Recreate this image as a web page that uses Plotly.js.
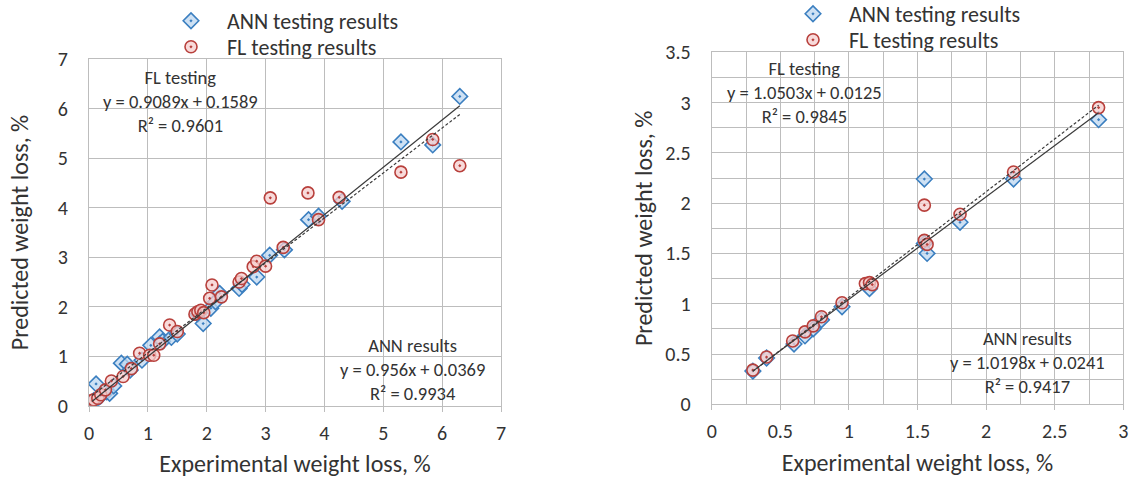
<!DOCTYPE html>
<html>
<head>
<meta charset="utf-8">
<script src="https://cdn.plot.ly/plotly-3.0.1.min.js"></script>
<style>html,body{margin:0;padding:0;background:#fff;} #chart{width:1131px;height:482px;}</style>
</head>
<body>
<div id="chart"></div>
<script>
// ---- Left panel data ----
const annLeftX = [0.05,0.08,0.12,0.15,0.2,0.3,0.35,0.42,0.55,0.65,0.7,0.9,1.05,1.2,1.25,1.4,1.5,1.85,1.94,2.07,2.15,2.22,2.55,2.6,2.85,3.07,3.32,3.73,3.9,4.3,5.3,5.84,6.3];
const annLeftY = [0.05,0.1,0.44,0.15,0.2,0.28,0.25,0.4,0.86,0.84,0.72,0.92,1.22,1.39,1.3,1.38,1.45,1.85,1.66,1.97,2.1,2.27,2.37,2.45,2.6,3.04,3.15,3.76,3.83,4.13,5.33,5.27,6.25];
const flLeftX  = [0.05,0.08,0.15,0.2,0.28,0.38,0.58,0.72,0.86,1.03,1.1,1.2,1.37,1.5,1.8,1.85,1.9,1.95,2.05,2.09,2.25,2.55,2.59,2.79,2.85,3.0,3.08,3.3,3.72,3.9,4.25,5.3,5.84,6.3];
const flLeftY  = [0.1,0.12,0.15,0.22,0.32,0.5,0.59,0.75,1.06,1.02,1.02,1.25,1.63,1.5,1.85,1.9,1.93,1.88,2.17,2.44,2.2,2.5,2.57,2.81,2.92,2.82,4.2,3.2,4.3,3.76,4.21,4.72,5.38,4.85];
// ---- Right panel data ----
const annRightX = [0.3,0.4,0.6,0.68,0.74,0.8,0.95,1.15,1.55,1.55,1.57,1.81,2.2,2.82];
const annRightY = [0.33,0.46,0.6,0.68,0.75,0.84,0.97,1.15,2.24,1.6,1.5,1.81,2.24,2.83];
const flRightX  = [0.3,0.4,0.59,0.68,0.74,0.8,0.95,1.12,1.15,1.17,1.55,1.55,1.57,1.81,2.2,2.82];
const flRightY  = [0.34,0.47,0.63,0.72,0.78,0.87,1.01,1.2,1.21,1.19,1.98,1.63,1.59,1.89,2.31,2.95];
// ---- Trend line coefficients [slope, intercept] ----
const annLeftFit  = [0.956, 0.0369];
const flLeftFit   = [0.9089, 0.1589];
const annRightFit = [1.0198, 0.0241];
const flRightFit  = [1.0503, 0.0125];
// ---- Text ----
const legendNames = ["ANN testing results", "FL testing results"];
const xTitle = "Experimental weight loss, %";
const yTitle = "Predicted weight loss, %";
const leftFLNote   = ["FL testing", "y = 0.9089x + 0.1589", "R² = 0.9601"];
const leftANNNote  = ["ANN results", "y = 0.956x + 0.0369", "R² = 0.9934"];
const rightFLNote  = ["FL testing", "y = 1.0503x + 0.0125", "R² = 0.9845"];
const rightANNNote = ["ANN results", "y = 1.0198x + 0.0241", "R² = 0.9417"];

const FONT = "Calibri, Carlito, Lato, 'Open Sans', sans-serif";
const TXT = "#333333";
const GRID = "#bdbdbd";

function fitLine(xs, fit, xa, ya, dash) {
  const x0 = Math.min(...xs), x1 = Math.max(...xs);
  return {x:[x0,x1], y:[fit[0]*x0+fit[1], fit[0]*x1+fit[1]], mode:'lines', xaxis:xa, yaxis:ya,
    line:{color:'#3a3a3a', width:1.2, dash:dash}, showlegend:false, hoverinfo:'skip'};
}
function annTrace(x,y,xa,ya,leg) {
  return {x:x, y:y, mode:'markers', name:legendNames[0], xaxis:xa, yaxis:ya, legend:leg,
    marker:{symbol:'diamond-dot', size:12, color:'rgba(190,215,240,0.75)', line:{color:'#3b7fc0', width:1.6}}};
}
function flTrace(x,y,xa,ya,leg) {
  return {x:x, y:y, mode:'markers', name:legendNames[1], xaxis:xa, yaxis:ya, legend:leg,
    marker:{symbol:'circle-dot', size:12, color:'rgba(245,205,205,0.75)', line:{color:'#b8403c', width:1.6}}};
}

const data = [
  annTrace(annLeftX, annLeftY, 'x', 'y', 'legend'),
  flTrace(flLeftX, flLeftY, 'x', 'y', 'legend2'),
  fitLine(annLeftX, annLeftFit, 'x', 'y', 'solid'),
  fitLine(flLeftX, flLeftFit, 'x', 'y', '3px,2px'),
  annTrace(annRightX, annRightY, 'x2', 'y2', 'legend3'),
  flTrace(flRightX, flRightY, 'x2', 'y2', 'legend4'),
  fitLine(annRightX, annRightFit, 'x2', 'y2', 'solid'),
  fitLine(flRightX, flRightFit, 'x2', 'y2', '3px,2px')
];

const W = 1131, H = 482;
const TICK = 20, TITLE = 24, ANN = 18.5, LEG = 22;
const axBase = {showgrid:true, gridcolor:GRID, gridwidth:1, zeroline:false, showline:true, linecolor:GRID, linewidth:1, mirror:true,
  tickfont:{family:FONT, size:TICK, color:TXT}, ticks:'outside', ticklen:5, tickcolor:GRID, fixedrange:true};

function note(x, y, lines) {
  return {xref:'paper', yref:'paper', x:x/W, y:1-y/H, xanchor:'center', yanchor:'middle', text:lines.join('<br>'), showarrow:false,
    align:'center', font:{family:FONT, size:ANN, color:TXT}};
}
function leg(x, y) {
  return {x:x/W, y:1-y/H, xanchor:'left', yanchor:'middle', font:{family:FONT, size:LEG, color:TXT},
    bgcolor:'rgba(0,0,0,0)', itemwidth:62};
}

const layout = {
  width:W, height:H, margin:{l:0, r:0, t:0, b:0, pad:0, autoexpand:false}, paper_bgcolor:'#fff', plot_bgcolor:'#fff',
  font:{family:FONT, color:TXT},
  xaxis: Object.assign({}, axBase, {domain:[89/W, 501/W], range:[0,7], dtick:1, anchor:'y',
    ticklabelstandoff:4,
    title:{text:xTitle, font:{family:FONT, size:TITLE, color:TXT}, standoff:11}}),
  yaxis: Object.assign({}, axBase, {domain:[1-405.7/H, 1-59.3/H], range:[0,7], dtick:1, anchor:'x',
    ticks:'', ticklabelstandoff:16,
    title:{text:yTitle, font:{family:FONT, size:TITLE, color:TXT}, standoff:22}}),
  xaxis2: Object.assign({}, axBase, {domain:[711.7/W, 1123.3/W], range:[0,3], dtick:0.5, anchor:'y2',
    ticklabelstandoff:4, minor:{dtick:0.25, showgrid:true, gridcolor:GRID, gridwidth:1, ticks:''},
    title:{text:xTitle, font:{family:FONT, size:TITLE, color:TXT}, standoff:11}}),
  yaxis2: Object.assign({}, axBase, {domain:[1-404.3/H, 1-52.3/H], range:[0,3.5], dtick:0.5, anchor:'x2',
    ticks:'', ticklabelstandoff:16, minor:{dtick:0.25, showgrid:true, gridcolor:GRID, gridwidth:1},
    title:{text:yTitle, font:{family:FONT, size:TITLE, color:TXT}, standoff:5}}),
  legend: leg(155, 21),
  legend2: leg(155, 47),
  legend3: leg(777, 14),
  legend4: leg(777, 40),
  annotations:[
    note(180, 101, leftFLNote),
    note(412, 369, leftANNNote),
    note(804, 93, rightFLNote),
    note(1027, 362, rightANNNote)
  ]
};

Plotly.newPlot('chart', data, layout, {displayModeBar:false, staticPlot:true});
</script>
</body>
</html>
